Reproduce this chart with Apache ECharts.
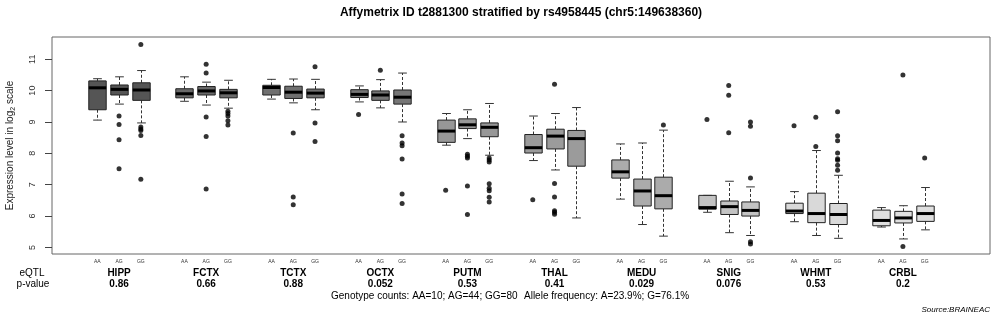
<!DOCTYPE html>
<html>
<head>
    <meta charset="UTF-8">
    <title>eQTL boxplot</title>
    <script type="text/javascript" src="https://cdn.jsdelivr.net/npm/echarts@6/dist/echarts.min.js"></script>
    <style>
        html, body { margin: 0; padding: 0; background: #fff; }
        #chart { width: 1000px; height: 318px; }
    </style>
</head>
<body>
<div id="chart"></div>
<script type="text/javascript">
    // regions and genotypes
    var regions = ['HIPP', 'FCTX', 'TCTX', 'OCTX', 'PUTM', 'THAL', 'MEDU', 'SNIG', 'WHMT', 'CRBL'];
    var pValues = ['0.86', '0.66', '0.88', '0.052', '0.53', '0.41', '0.029', '0.076', '0.53', '0.2'];
    var genotypes = ['AA', 'AG', 'GG'];
    var yTicks = [5, 6, 7, 8, 9, 10, 11];

    // box stats, 30 boxes (region x genotype)
    var whiskerLow = [9.06, 9.57, 8.97,  9.66, 9.54, 9.44,  9.73, 9.61, 9.39,  9.64, 9.45, 9.00,
                      8.26, 8.47, 7.94,  7.77, 7.47, 5.94,  6.54, 5.73, 5.36,  6.12, 5.47, 5.38,
                      5.82, 5.38, 5.29,  5.65, 5.27, 5.56];
    var boxLow     = [9.39, 9.86, 9.69,  9.77, 9.86, 9.77,  9.86, 9.75, 9.77,  9.78, 9.69, 9.57,
                      8.35, 8.79, 8.53,  8.01, 8.14, 7.59,  7.21, 6.32, 6.23,  6.22, 6.05, 6.00,
                      6.08, 5.79, 5.73,  5.69, 5.78, 5.83];
    var medians    = [10.09, 10.04, 10.02,  9.90, 9.99, 9.93,  10.10, 9.95, 9.92,  9.88, 9.86, 9.79,
                      8.71, 8.91, 8.83,  8.18, 8.55, 8.47,  7.41, 6.80, 6.65,  6.27, 6.30, 6.18,
                      6.16, 6.08, 6.05,  5.86, 5.94, 6.08];
    var boxHigh    = [10.31, 10.18, 10.25,  10.06, 10.13, 10.04,  10.17, 10.14, 10.05,  10.03, 9.99, 10.02,
                      9.06, 9.10, 8.97,  8.60, 8.77, 8.73,  7.79, 7.18, 7.24,  6.66, 6.48, 6.45,
                      6.41, 6.73, 6.40,  6.19, 6.15, 6.32];
    var whiskerHigh = [10.38, 10.44, 10.64,  10.44, 10.27, 10.33,  10.36, 10.37, 10.36,  10.15, 10.35, 10.56,
                       9.27, 9.39, 9.59,  9.19, 9.27, 9.46,  8.30, 8.33, 8.74,  6.66, 7.11, 6.93,
                       6.78, 8.09, 7.30,  6.27, 6.33, 6.91];

    // outliers: [box index, value]
    var outliers = [
        [1, 9.19], [1, 8.92], [1, 8.43], [1, 7.51],
        [2, 11.47], [2, 8.84], [2, 8.78], [2, 8.73], [2, 8.57], [2, 7.17],
        [4, 10.84], [4, 10.56], [4, 9.16], [4, 8.54], [4, 6.86],
        [5, 9.34], [5, 9.27], [5, 9.19], [5, 9.04], [5, 8.90],
        [7, 8.65], [7, 6.61], [7, 6.36],
        [8, 10.76], [8, 8.97], [8, 8.38],
        [9, 9.24],
        [10, 10.65],
        [11, 8.56], [11, 8.33], [11, 8.24], [11, 7.82], [11, 6.70], [11, 6.40],
        [12, 6.82],
        [13, 7.97], [13, 7.91], [13, 7.85], [13, 6.96], [13, 6.05],
        [14, 7.85], [14, 7.79], [14, 7.72], [14, 7.03], [14, 6.89], [14, 6.81], [14, 6.60], [14, 6.45],
        [15, 6.52],
        [16, 10.20], [16, 7.04], [16, 6.61], [16, 6.17], [16, 6.12], [16, 6.06],
        [20, 8.90],
        [21, 9.08],
        [22, 10.16], [22, 9.85], [22, 8.66],
        [23, 9.00], [23, 8.86], [23, 7.21], [23, 5.18], [23, 5.11],
        [24, 8.88],
        [25, 9.15], [25, 8.22],
        [26, 9.33], [26, 8.56], [26, 8.40], [26, 8.01], [26, 7.83], [26, 7.78], [26, 7.62], [26, 7.46],
        [28, 10.50], [28, 5.03],
        [29, 7.85]
    ];

    // grey level of each region's boxes
    var regionFill = ['#555555', '#6a6a6a', '#707070', '#767676', '#979797',
                      '#9b9b9b', '#ababab', '#c3c3c3', '#d9d9d9', '#dfdfdf'];

    function slotOf(i) { return Math.floor(i / 3) * 4 + (i % 3) + 1; }

    var boxData = [];
    var boxSlots = [];
    for (var i = 0; i < medians.length; i++) {
        boxSlots.push(slotOf(i));
        boxData.push([slotOf(i), whiskerLow[i], boxLow[i], medians[i], boxHigh[i], whiskerHigh[i]]);
    }
    var groupSlots = regions.map(function (r, g) { return g * 4 + 2; });
    var outlierData = outliers.map(function (o) { return [slotOf(o[0]), o[1]]; });

    function renderBox(params, api) {
        var x = api.value(0);
        var lo = api.coord([x, api.value(1)]);
        var q1 = api.coord([x, api.value(2)]);
        var md = api.coord([x, api.value(3)]);
        var q3 = api.coord([x, api.value(4)]);
        var hi = api.coord([x, api.value(5)]);
        var half = api.size([0.8, 0])[0] / 2;
        var cap = half / 2;
        var cx = Math.round(q1[0]) + 0.5;
        var fill = regionFill[Math.floor(params.dataIndex / 3)];
        var dash = {stroke: '#333', lineWidth: 1, lineDash: [3, 2]};
        var solid = {stroke: '#333', lineWidth: 1};
        return {
            type: 'group',
            children: [
                {type: 'line', shape: {x1: cx, y1: q3[1], x2: cx, y2: hi[1]}, style: dash},
                {type: 'line', shape: {x1: cx, y1: q1[1], x2: cx, y2: lo[1]}, style: dash},
                {type: 'line', shape: {x1: cx - cap, y1: hi[1], x2: cx + cap, y2: hi[1]}, style: solid},
                {type: 'line', shape: {x1: cx - cap, y1: lo[1], x2: cx + cap, y2: lo[1]}, style: solid},
                {type: 'rect', shape: {x: cx - half, y: q3[1], width: half * 2, height: q1[1] - q3[1]},
                    style: {fill: fill, stroke: '#222', lineWidth: 1}},
                {type: 'line', shape: {x1: cx - half, y1: md[1], x2: cx + half, y2: md[1]},
                    style: {stroke: '#000', lineWidth: 3}}
            ]
        };
    }

    var font = 'Liberation Sans';
    var chart = echarts.init(document.getElementById('chart'));
    chart.setOption({
        animation: false,
        textStyle: {fontFamily: font},
        grid: {left: 52, right: 10, top: 37, bottom: 64, show: true, borderColor: '#666', borderWidth: 1,
            containLabel: false, outerBoundsMode: 'none'},
        xAxis: [{
            type: 'value', min: -1.08, max: 42.0,
            axisLine: {show: false, onZero: false}, axisTick: {show: false}, splitLine: {show: false},
            axisLabel: {
                customValues: boxSlots, fontSize: 5, color: '#333', margin: 5,
                formatter: function (v) { return genotypes[(Math.round(v) % 4) - 1]; }
            }
        }, {
            type: 'value', min: -1.08, max: 42.0, position: 'bottom',
            axisLine: {show: false, onZero: false}, axisTick: {show: false}, splitLine: {show: false},
            axisLabel: {
                customValues: groupSlots, margin: 14, lineHeight: 11,
                formatter: function (v) {
                    var g = (Math.round(v) - 2) / 4;
                    return '{n|' + regions[g] + '}\n{p|' + pValues[g] + '}';
                },
                rich: {
                    n: {fontSize: 10, fontWeight: 'bold', color: '#000', lineHeight: 11, fontFamily: font},
                    p: {fontSize: 10, fontWeight: 'bold', color: '#000', lineHeight: 11, fontFamily: font}
                }
            }
        }],
        yAxis: {
            type: 'value', min: 4.79, max: 11.71,
            axisLine: {show: false, onZero: false}, splitLine: {show: false},
            axisTick: {show: true, customValues: yTicks, length: 7, lineStyle: {color: '#444'}},
            axisLabel: {customValues: yTicks, rotate: 90, fontSize: 9, color: '#333', margin: 15},
            name: 'Expression level in log{sub|2} scale',
            nameLocation: 'middle', nameRotate: 90, nameGap: 35,
            nameTextStyle: {
                fontSize: 10, color: '#222', lineHeight: 13,
                rich: {sub: {fontSize: 7, verticalAlign: 'bottom', lineHeight: 13, color: '#222'}}
            }
        },
        series: [{
            type: 'custom',
            renderItem: renderBox,
            data: boxData,
            encode: {x: 0, y: [1, 2, 3, 4, 5]},
            z: 2
        }, {
            type: 'scatter',
            data: outlierData,
            symbol: 'circle', symbolSize: 5,
            itemStyle: {color: '#000'},
            z: 3
        }],
        graphic: [
            {type: 'text', x: 521, y: 13, style: {text: 'Affymetrix ID t2881300 stratified by rs4958445 (chr5:149638360)',
                font: 'bold 12px "Liberation Sans"', fill: '#000', align: 'center', verticalAlign: 'middle'}},
            {type: 'text', x: 32, y: 273, style: {text: 'eQTL', font: '10px "Liberation Sans"', fill: '#000',
                align: 'center', verticalAlign: 'middle'}},
            {type: 'text', x: 33, y: 284, style: {text: 'p-value', font: '10px "Liberation Sans"', fill: '#000',
                align: 'center', verticalAlign: 'middle'}},
            {type: 'text', x: 331, y: 296, style: {text: 'Genotype counts: AA=10; AG=44; GG=80', font: '10px "Liberation Sans"',
                fill: '#000', align: 'left', verticalAlign: 'middle'}},
            {type: 'text', x: 524, y: 296, style: {text: 'Allele frequency: A=23.9%; G=76.1%', font: '10px "Liberation Sans"',
                fill: '#000', align: 'left', verticalAlign: 'middle'}},
            {type: 'text', x: 990, y: 310, style: {text: 'Source:BRAINEAC', font: 'italic 8px "Liberation Sans"',
                fill: '#000', align: 'right', verticalAlign: 'middle'}}
        ]
    });
</script>
</body>
</html>
